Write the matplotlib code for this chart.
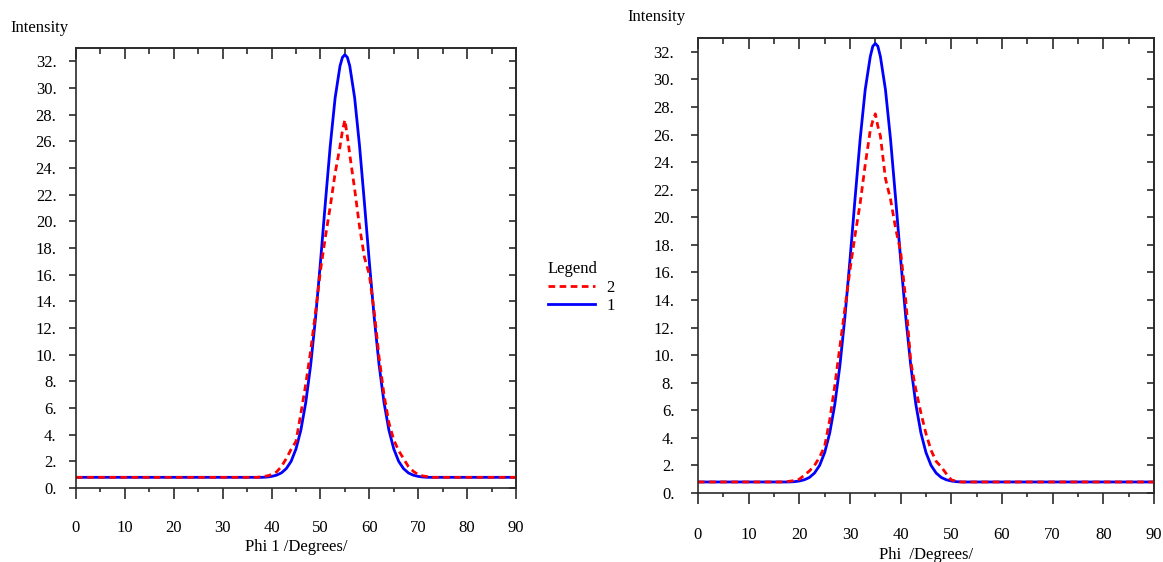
import matplotlib
matplotlib.use("Agg")
import matplotlib.pyplot as plt
from matplotlib.ticker import MultipleLocator, FuncFormatter

plt.rcParams['font.family'] = ['Liberation Serif', 'DejaVu Serif']

# ---- data ----
phi_left = [0, 37, 38, 39, 40, 41, 42, 43, 44, 45, 46, 47, 48, 49, 50, 51, 52, 53, 54, 54.5, 55,
            55.5, 56, 57, 58, 59, 60, 61, 62, 63, 64, 65, 66, 67, 68, 69, 70, 71, 72, 73, 90]
blue_left = [0.8, 0.8, 0.8, 0.82, 0.87, 0.96, 1.13, 1.45, 2.0, 2.93, 4.35, 6.42, 9.22, 12.78,
             16.93, 21.37, 25.65, 29.25, 31.65, 32.3, 32.5, 32.3, 31.65, 29.25, 25.65, 21.37, 16.93, 12.78,
             9.22, 6.42, 4.35, 2.93, 2.0, 1.45, 1.13, 0.96, 0.87, 0.82, 0.8, 0.8, 0.8]
red_left = [0.8, 0.8, 0.85, 0.9, 1.0, 1.2, 1.6, 2.2, 2.9, 3.5, 5.6, 7.8, 10.3, 13.2,
            16.3, 18.8, 21.1, 23.6, 25.6, 26.8, 27.6, 26.4, 25.0, 22.4, 19.6, 17.3, 16.0, 13.2,
            9.8, 7.0, 4.9, 3.6, 2.8, 2.2, 1.6, 1.25, 1.0, 0.9, 0.85, 0.8, 0.8]

phi_right = [0, 17, 18, 19, 20, 21, 22, 23, 24, 25, 26, 27, 28, 29, 30, 31, 32, 33, 34, 34.5, 35,
             35.5, 36, 37, 38, 39, 40, 41, 42, 43, 44, 45, 46, 47, 48, 49, 50, 51, 52, 53, 90]
blue_right = [0.8, 0.8, 0.8, 0.82, 0.87, 0.96, 1.13, 1.45, 2.0, 2.93, 4.35, 6.42, 9.22, 12.78,
              16.93, 21.37, 25.65, 29.25, 31.65, 32.4, 32.6, 32.4, 31.65, 29.25, 25.65, 21.37, 16.93, 12.78,
              9.22, 6.42, 4.35, 2.93, 2.0, 1.45, 1.13, 0.96, 0.87, 0.82, 0.8, 0.8, 0.8]
red_right = [0.8, 0.8, 0.85, 0.9, 1.0, 1.3, 1.6, 2.0, 2.6, 3.4, 5.3, 7.8, 10.6, 13.4,
             16.2, 18.7, 21.0, 23.8, 26.3, 27.0, 27.5, 26.6, 25.9, 22.8, 21.3, 19.2, 17.5, 14.0,
             9.5, 7.5, 5.8, 4.3, 3.1, 2.3, 1.9, 1.4, 0.95, 0.85, 0.8, 0.8, 0.8]

series_labels = ['2', '1']
x_ticks = [0, 10, 20, 30, 40, 50, 60, 70, 80, 90]
xlabels = ['Phi 1 /Degrees/', 'Phi  /Degrees/']
ylabel = 'Intensity'
legend_title = 'Legend'

W, H = 1163, 562
fig = plt.figure(figsize=(W / 100, H / 100), dpi=100)

def px_axes(x0, y0, x1, y1):
    return fig.add_axes([x0 / W, 1 - y1 / H, (x1 - x0) / W, (y1 - y0) / H])

spine_c = '#2a2a2a'
fs = 12

def style(ax, ytick_pad, xtick_pad):
    ax.set_xlim(0, 90)
    ax.set_ylim(0, 33)
    ax.set_xticks(x_ticks)
    ax.xaxis.set_minor_locator(MultipleLocator(5))
    ax.yaxis.set_major_locator(MultipleLocator(2))
    ax.yaxis.set_major_formatter(FuncFormatter(lambda v, p: f"{v:.0f}."))
    for s in ax.spines.values():
        s.set_color(spine_c)
        s.set_linewidth(1.2)
    ax.tick_params(axis='x', which='major', direction='out', length=8, width=1.2,
                   color=spine_c, labelsize=fs, pad=xtick_pad)
    ax.tick_params(axis='x', which='minor', direction='out', length=3, width=1.2, color=spine_c)
    ax.tick_params(axis='y', which='major', direction='out', length=5, width=1.2,
                   color=spine_c, labelsize=fs, pad=ytick_pad)
    top = ax.secondary_xaxis('top')
    top.set_xticks(x_ticks)
    top.xaxis.set_minor_locator(MultipleLocator(5))
    top.tick_params(which='major', direction='in', length=8, width=1.2, color=spine_c, labeltop=False)
    top.tick_params(which='minor', direction='in', length=4, width=1.2, color=spine_c)
    top.spines['top'].set_color(spine_c)
    top.spines['top'].set_linewidth(1.2)
    right = ax.secondary_yaxis('right')
    right.yaxis.set_major_locator(MultipleLocator(2))
    right.tick_params(which='major', direction='in', length=5, width=1.2, color=spine_c, labelright=False)
    right.spines['right'].set_color(spine_c)
    right.spines['right'].set_linewidth(1.2)

lw = 2.0
dash = (0, (2.4, 1.6))

ax1 = px_axes(76, 48, 516, 488)
b1, = ax1.plot(phi_left, blue_left, color='#0000ff', lw=lw, label=series_labels[1])
r1, = ax1.plot(phi_left, red_left, color='#ff0000', lw=lw, ls=dash, label=series_labels[0])
style(ax1, ytick_pad=9, xtick_pad=15)
ax1.set_xlabel(xlabels[0], fontsize=fs)
ax1.xaxis.set_label_coords(0.5, -(547 - 488) / 440)
ax1.xaxis.label.set_va('center')

ax2 = px_axes(698, 38, 1154, 493)
ax2.plot(phi_right, blue_right, color='#0000ff', lw=lw, label=series_labels[1])
ax2.plot(phi_right, red_right, color='#ff0000', lw=lw, ls=dash, label=series_labels[0])
style(ax2, ytick_pad=12, xtick_pad=16.5)
ax2.set_xlabel(xlabels[1], fontsize=fs)
ax2.xaxis.set_label_coords(0.5, -(555 - 493) / 455)
ax2.xaxis.label.set_va('center')

fig.text(10 / W, 1 - 28 / H, ylabel, fontsize=fs, ha='left', va='center')
fig.text(627 / W, 1 - 17 / H, ylabel, fontsize=fs, ha='left', va='center')

leg = fig.legend([r1, b1], series_labels, title=legend_title, loc='upper left',
                 bbox_to_anchor=(548 / W, 1 - 261 / H), frameon=False, fontsize=fs,
                 title_fontsize=fs, handlelength=2.8, handletextpad=0.7,
                 labelspacing=0.15, borderpad=0, borderaxespad=0, alignment='left')

fig.savefig('out.png', dpi=100)
